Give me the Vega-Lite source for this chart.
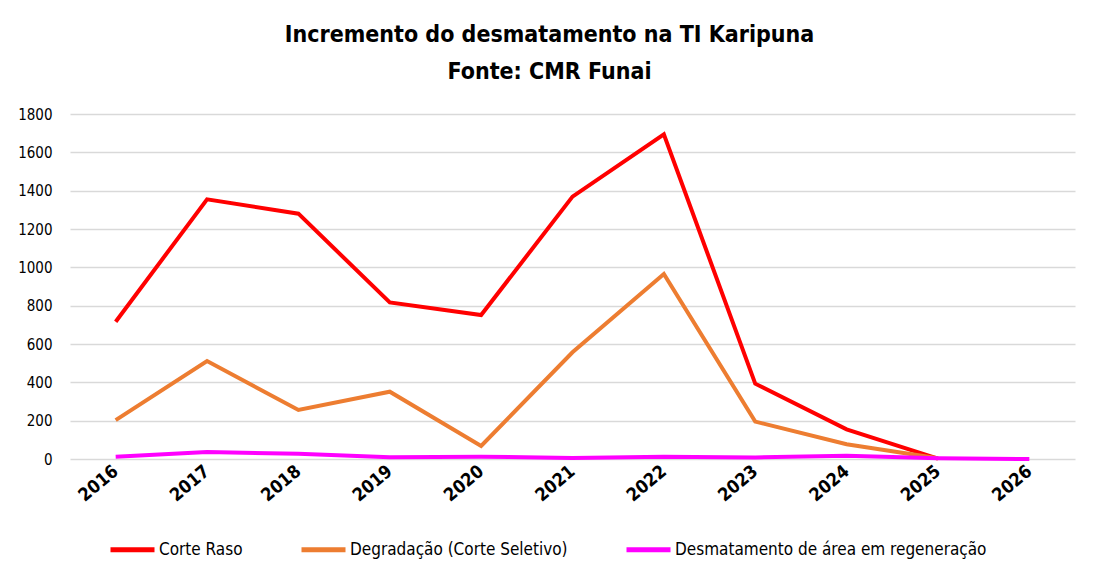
{
  "$schema": "https://vega.github.io/schema/vega-lite/v6.json",
  "autosize": {"type": "none"},
  "width": 1005,
  "height": 345,
  "padding": {"left": 70, "top": 114, "right": 23, "bottom": 121},
  "background": "white",
  "title": {
    "text": ["Incremento do desmatamento na TI Karipuna", "Fonte: CMR Funai"],
    "font": "Liberation Sans Narrow, DejaVu Sans Condensed, Liberation Sans",
    "fontSize": 23,
    "fontWeight": "bold",
    "color": "#000000",
    "lineHeight": 37,
    "anchor": "middle",
    "dx": -23,
    "offset": 23
  },
  "data": {
    "values": [
      {"ano": "2016", "serie": "Corte Raso", "valor": 716},
      {"ano": "2017", "serie": "Corte Raso", "valor": 1355},
      {"ano": "2018", "serie": "Corte Raso", "valor": 1280},
      {"ano": "2019", "serie": "Corte Raso", "valor": 817},
      {"ano": "2020", "serie": "Corte Raso", "valor": 751},
      {"ano": "2021", "serie": "Corte Raso", "valor": 1369},
      {"ano": "2022", "serie": "Corte Raso", "valor": 1694},
      {"ano": "2023", "serie": "Corte Raso", "valor": 393},
      {"ano": "2024", "serie": "Corte Raso", "valor": 155},
      {"ano": "2025", "serie": "Corte Raso", "valor": 2},
      {"ano": "2016", "serie": "Degradação (Corte Seletivo)", "valor": 203},
      {"ano": "2017", "serie": "Degradação (Corte Seletivo)", "valor": 511},
      {"ano": "2018", "serie": "Degradação (Corte Seletivo)", "valor": 256},
      {"ano": "2019", "serie": "Degradação (Corte Seletivo)", "valor": 351},
      {"ano": "2020", "serie": "Degradação (Corte Seletivo)", "valor": 68},
      {"ano": "2021", "serie": "Degradação (Corte Seletivo)", "valor": 557},
      {"ano": "2022", "serie": "Degradação (Corte Seletivo)", "valor": 965},
      {"ano": "2023", "serie": "Degradação (Corte Seletivo)", "valor": 195},
      {"ano": "2024", "serie": "Degradação (Corte Seletivo)", "valor": 77},
      {"ano": "2025", "serie": "Degradação (Corte Seletivo)", "valor": 4},
      {"ano": "2016", "serie": "Desmatamento de área em regeneração", "valor": 12},
      {"ano": "2017", "serie": "Desmatamento de área em regeneração", "valor": 36},
      {"ano": "2018", "serie": "Desmatamento de área em regeneração", "valor": 27},
      {"ano": "2019", "serie": "Desmatamento de área em regeneração", "valor": 9},
      {"ano": "2020", "serie": "Desmatamento de área em regeneração", "valor": 12},
      {"ano": "2021", "serie": "Desmatamento de área em regeneração", "valor": 5},
      {"ano": "2022", "serie": "Desmatamento de área em regeneração", "valor": 12},
      {"ano": "2023", "serie": "Desmatamento de área em regeneração", "valor": 8},
      {"ano": "2024", "serie": "Desmatamento de área em regeneração", "valor": 17},
      {"ano": "2025", "serie": "Desmatamento de área em regeneração", "valor": 4},
      {"ano": "2026", "serie": "Desmatamento de área em regeneração", "valor": 0}
    ]
  },
  "mark": {"type": "line", "strokeWidth": 4, "strokeJoin": "miter", "strokeCap": "butt"},
  "encoding": {
    "x": {
      "field": "ano",
      "type": "ordinal",
      "scale": {"type": "point", "padding": 0.5, "domain": ["2016","2017","2018","2019","2020","2021","2022","2023","2024","2025","2026"]},
      "axis": {
        "title": null,
        "domain": false,
        "ticks": false,
        "labelAngle": -40,
        "labelFont": "Liberation Sans Narrow, DejaVu Sans Condensed, Liberation Sans",
        "labelFontSize": 18,
        "labelFontWeight": "bold",
        "labelColor": "#000000",
        "labelPadding": 10,
        "labelAlign": "right",
        "labelBaseline": "middle",
        "grid": false
      }
    },
    "y": {
      "field": "valor",
      "type": "quantitative",
      "scale": {"domain": [0, 1800], "nice": false},
      "axis": {
        "title": null,
        "domain": false,
        "ticks": false,
        "format": "d",
        "values": [0,200,400,600,800,1000,1200,1400,1600,1800],
        "labelFont": "Liberation Sans Narrow, DejaVu Sans Condensed, Liberation Sans",
        "labelFontSize": 15,
        "labelColor": "#000000",
        "labelPadding": 18,
        "grid": true,
        "gridColor": "#d9d9d9",
        "gridWidth": 1.5
      }
    },
    "color": {
      "field": "serie",
      "type": "nominal",
      "scale": {
        "domain": ["Corte Raso", "Degradação (Corte Seletivo)", "Desmatamento de área em regeneração"],
        "range": ["#FF0000", "#ED7D31", "#FF00FF"]
      },
      "legend": {
        "title": null,
        "orient": "none",
        "direction": "horizontal",
        "legendX": 38,
        "legendY": 411,
        "symbolType": "stroke",
        "symbolSize": 1936,
        "symbolStrokeWidth": 5,
        "labelFont": "Liberation Sans Narrow, DejaVu Sans Condensed, Liberation Sans",
        "labelFontSize": 17,
        "labelLimit": 0,
        "labelColor": "#000000",
        "labelOffset": 2,
        "columnPadding": 48
      }
    }
  },
  "config": {
    "view": {"stroke": null}
  }
}
